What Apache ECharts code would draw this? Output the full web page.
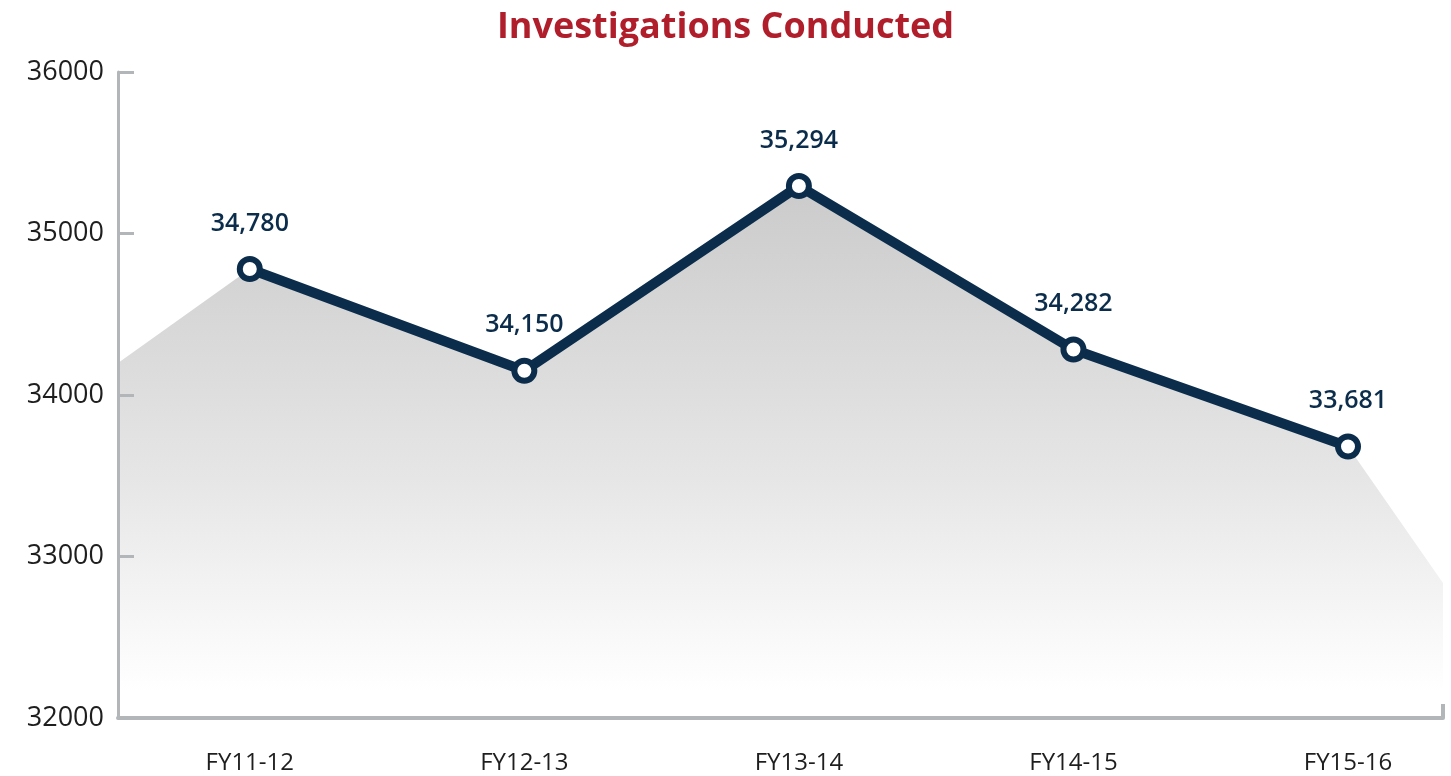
<!DOCTYPE html>
<html>
<head>
<meta charset="utf-8">
<script src="https://cdn.jsdelivr.net/npm/echarts@6/dist/echarts.min.js"></script>
<style>
  html, body { margin: 0; padding: 0; background: #fff; }
  #chart { width: 1451px; height: 776px; }
</style>
</head>
<body>
<div id="chart"></div>
<script>
// data
var categories = ['FY11-12', 'FY12-13', 'FY13-14', 'FY14-15', 'FY15-16'];
var investigations = [34780, 34150, 35294, 34282, 33681];
var catPositions = [0.5, 1.5, 2.5, 3.5, 4.5];
// the grey backdrop runs past the first and last points to the plot edges
var areaLeft = [0.02, 34198];
var areaRight = [4.846, 32836];
var yTicks = [32000, 33000, 34000, 35000, 36000];

var navy = '#0b2d4b';
var axisGrey = '#b3b6b9';

var lineData = catPositions.map(function (x, i) { return [x, investigations[i]]; });
var areaData = [areaLeft].concat(lineData, [areaRight]);

var myChart = echarts.init(document.getElementById('chart'));
var option = {
    animation: false,
    title: {
        text: 'Investigations Conducted',
        left: 'center',
        top: 5,
        textStyle: {
            color: '#b01e2b',
            fontSize: 36,
            fontWeight: 'bold',
            fontFamily: 'Open Sans'
        }
    },
    grid: { left: 118, right: 8, top: 72, bottom: 58 },
    xAxis: {
        type: 'value',
        min: areaLeft[0],
        max: areaRight[0],
        z: 10,
        splitLine: { show: false },
        axisLine: { lineStyle: { color: axisGrey, width: 4 } },
        axisTick: {
            inside: true,
            length: 14,
            customValues: [areaRight[0]],
            lineStyle: { color: axisGrey, width: 4 }
        },
        axisLabel: {
            customValues: catPositions,
            margin: 33,
            color: '#1e1e1e',
            fontSize: 24,
            fontWeight: 500,
            fontFamily: 'Open Sans',
            formatter: function (v) {
                var i = catPositions.indexOf(v);
                return i >= 0 ? categories[i] : '';
            }
        }
    },
    yAxis: {
        type: 'value',
        min: yTicks[0],
        max: yTicks[yTicks.length - 1],
        interval: 1000,
        z: 10,
        splitLine: { show: false },
        axisLine: { show: true, lineStyle: { color: axisGrey, width: 3 } },
        axisTick: { show: true, inside: true, length: 16, lineStyle: { color: axisGrey, width: 3 } },
        axisLabel: {
            margin: 14,
            color: '#1e1e1e',
            fontSize: 27,
            fontWeight: 500,
            fontFamily: 'Open Sans',
            padding: [6, 0, 0, 0],
            formatter: function (v) { return String(v); }
        }
    },
    series: [
        {
            type: 'line',
            data: areaData,
            symbol: 'none',
            silent: true,
            lineStyle: { width: 0 },
            areaStyle: {
                opacity: 1,
                color: new echarts.graphic.LinearGradient(0, 0, 0, 1, [
                    { offset: 0, color: '#cbcbcb' },
                    { offset: 0.55, color: '#e6e6e6' },
                    { offset: 0.95, color: '#ffffff' },
                    { offset: 1, color: '#ffffff' }
                ])
            },
            z: 1
        },
        {
            type: 'line',
            data: lineData,
            symbol: 'circle',
            symbolSize: 20,
            lineStyle: { color: navy, width: 10 },
            itemStyle: { color: '#fff', borderColor: navy, borderWidth: 6 },
            label: {
                show: true,
                position: 'top',
                distance: 20,
                color: navy,
                fontSize: 25,
                fontWeight: 600,
                fontFamily: 'Open Sans',
                formatter: function (p) { return p.value[1].toLocaleString('en-US'); }
            },
            z: 3
        }
    ]
};
myChart.setOption(option);
</script>
</body>
</html>
